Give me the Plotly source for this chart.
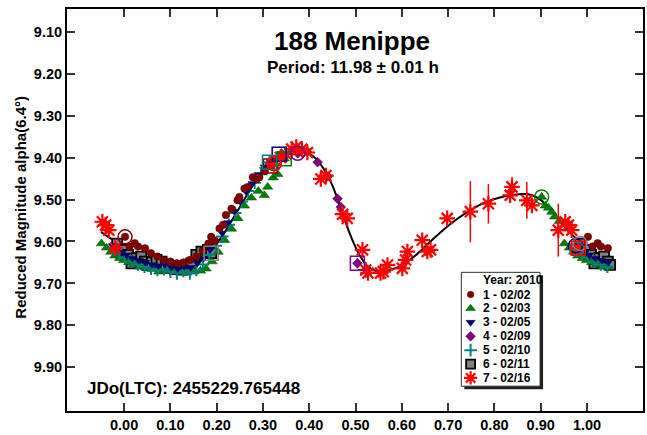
import plotly.graph_objects as go

W, H = 647, 435
L, R, T, B = 67, 645, 9, 414

def px(x):
    return (x - L) / (R - L)

def py(y):
    return (B - y) / (B - T)

# ---------------- data ----------------
x_ticks = [0.00, 0.10, 0.20, 0.30, 0.40, 0.50, 0.60, 0.70, 0.80, 0.90, 1.00]
y_ticks = [9.10, 9.20, 9.30, 9.40, 9.50, 9.60, 9.70, 9.80, 9.90]

curve_phase = [-0.05, -0.03, -0.01, 0.01, 0.03, 0.05, 0.07, 0.09, 0.11, 0.13, 0.15, 0.17,
               0.19, 0.21, 0.23, 0.25, 0.27, 0.29, 0.31, 0.33, 0.35, 0.37, 0.39, 0.41,
               0.43, 0.45, 0.47, 0.49, 0.51, 0.53, 0.55, 0.57, 0.60, 0.63, 0.66, 0.69,
               0.72, 0.75, 0.78, 0.81, 0.84, 0.87, 0.89, 0.91, 0.93, 0.95, 0.97, 0.99,
               1.01, 1.03, 1.055]
curve_mag = [9.577, 9.592, 9.606, 9.620, 9.633, 9.645, 9.653, 9.659, 9.662, 9.661, 9.655, 9.642,
             9.620, 9.590, 9.555, 9.518, 9.481, 9.447, 9.418, 9.398, 9.387, 9.383, 9.385, 9.398,
             9.425, 9.467, 9.527, 9.588, 9.635, 9.663, 9.672, 9.669, 9.657, 9.633, 9.602, 9.572,
             9.546, 9.524, 9.507, 9.496, 9.489, 9.487, 9.494, 9.510, 9.535, 9.562, 9.586, 9.605,
             9.620, 9.633, 9.646]

# 1 - 02/02
s1_phase = [0.002, 0.012, 0.023, 0.030, 0.045, 0.058, 0.072, 0.086, 0.100, 0.114, 0.128, 0.142,
            0.156, 0.170, 0.182, 0.188, 0.196, 0.206, 0.214, 0.220, 0.232, 0.245, 0.249, 0.260,
            0.267, 0.278, 0.286, 0.292, 0.304, 0.316]
s1_mag = [9.589, 9.612, 9.604, 9.612, 9.616, 9.628, 9.636, 9.644, 9.648, 9.652, 9.650, 9.644,
          9.636, 9.622, 9.605, 9.589, 9.598, 9.569, 9.560, 9.537, 9.522, 9.502, 9.494, 9.474,
          9.470, 9.447, 9.452, 9.447, 9.432, 9.420]

# 2 - 02/03
s2_phase = [0.902, 0.910, 0.917, 0.924, 0.930, 0.940, 0.951, 0.962, 0.971, 0.980, 0.990, 0.999,
            0.010, 0.022, 0.034, 0.046, 0.060, 0.075, 0.090, 0.105, 0.120, 0.135, 0.150, 0.165,
            0.177, 0.190, 0.203, 0.217, 0.232, 0.246, 0.260, 0.275, 0.290, 0.303, 0.310, 0.322,
            0.332, 0.346]
s2_mag = [9.494, 9.515, 9.520, 9.530, 9.541, 9.552, 9.605, 9.615, 9.625, 9.634, 9.640, 9.645,
          9.650, 9.655, 9.660, 9.662, 9.666, 9.672, 9.670, 9.668, 9.672, 9.675, 9.672, 9.670,
          9.665, 9.648, 9.625, 9.597, 9.570, 9.545, 9.515, 9.496, 9.480, 9.490, 9.470, 9.448,
          9.440, 9.403]

# 3 - 02/05
s3_phase = [0.975, 0.985, 0.995, 0.005, 0.018, 0.032, 0.046, 0.060, 0.074, 0.088, 0.102, 0.116,
            0.130, 0.144, 0.158, 0.172, 0.186, 0.199, 0.212, 0.225, 0.238, 0.251, 0.264, 0.277,
            0.290, 0.303, 0.316, 0.326, 0.335]
s3_mag = [9.610, 9.618, 9.626, 9.632, 9.640, 9.645, 9.650, 9.655, 9.658, 9.655, 9.662, 9.665,
          9.660, 9.662, 9.652, 9.640, 9.620, 9.600, 9.580, 9.555, 9.528, 9.505, 9.482, 9.462,
          9.440, 9.422, 9.410, 9.400, 9.392]

# 4 - 02/09
s4_phase = [0.375, 0.395, 0.418, 0.440, 0.461, 0.468, 0.504]
s4_mag = [9.390, 9.386, 9.411, 9.445, 9.498, 9.518, 9.652]
s4_err = [0.0, 0.0, 0.0, 0.0, 0.0, 0.0, 0.012]

# 5 - 02/10
s5_phase = [0.978, 0.990, 0.002, 0.016, 0.030, 0.044, 0.058, 0.072, 0.086, 0.100, 0.114, 0.128,
            0.142, 0.156, 0.170, 0.184, 0.198, 0.212, 0.226, 0.240, 0.254, 0.268, 0.282, 0.296,
            0.306, 0.314]
s5_mag = [9.618, 9.628, 9.638, 9.648, 9.655, 9.660, 9.665, 9.668, 9.666, 9.672, 9.676, 9.670,
          9.676, 9.668, 9.655, 9.632, 9.610, 9.588, 9.560, 9.532, 9.505, 9.480, 9.460, 9.440,
          9.425, 9.411]

# 6 - 02/11
s6_phase = [0.985, 0.998, 0.009, 0.016, 0.027, 0.037, 0.045, 0.050, 0.060, 0.070, 0.081, 0.090,
            0.098, 0.110, 0.124, 0.135, 0.145, 0.156, 0.167, 0.176, 0.181, 0.188]
s6_mag = [9.605, 9.620, 9.632, 9.652, 9.640, 9.636, 9.648, 9.656, 9.650, 9.644, 9.648, 9.658,
          9.663, 9.666, 9.667, 9.660, 9.652, 9.632, 9.624, 9.628, 9.620, 9.628]

# 7 - 02/16
s7_phase = [0.324, 0.338, 0.350, 0.362, 0.372, 0.384, 0.396, 0.425, 0.436, 0.472, 0.482, 0.515,
            0.522, 0.527, 0.554, 0.560, 0.569, 0.601, 0.608, 0.612, 0.644, 0.655, 0.662, 0.698,
            0.748, 0.787, 0.834, 0.838, 0.870, 0.881, 0.938, 0.953, 0.960, 0.967, 0.981]
s7_mag = [9.415, 9.400, 9.392, 9.380, 9.375, 9.380, 9.388, 9.451, 9.443, 9.535, 9.545, 9.620,
          9.668, 9.675, 9.675, 9.672, 9.656, 9.664, 9.644, 9.624, 9.597, 9.624, 9.620, 9.545,
          9.529, 9.510, 9.490, 9.470, 9.502, 9.514, 9.573, 9.553, 9.561, 9.573, 9.616]
s7_err = [0.0, 0.0, 0.0, 0.0, 0.0, 0.0, 0.0, 0.0, 0.0, 0.018, 0.0, 0.0,
          0.0, 0.0, 0.0, 0.0, 0.0, 0.0, 0.0, 0.0, 0.0, 0.0, 0.0, 0.018,
          0.073, 0.047, 0.0, 0.024, 0.044, 0.0, 0.063, 0.0, 0.0, 0.0, 0.0]

legend_title = "Year: 2010"
title_text = "188 Menippe"
subtitle_text = "Period: 11.98 ± 0.01 h"
jd_text = "JDo(LTC): 2455229.765448"
y_title = "Reduced Magnitude alpha(6.4°)"

# ---------------- styles ----------------
sessions = [
    dict(name="1 - 02/02", ph=s1_phase, mg=s1_mag, er=None, color="#800000",
         marker=dict(symbol="circle", size=7.5, color="#800000", line=dict(width=0.5, color="#500000"))),
    dict(name="2 - 02/03", ph=s2_phase, mg=s2_mag, er=None, color="#008000",
         marker=dict(symbol="triangle-up", size=9, color="#008000", line=dict(width=0.5, color="#004000"))),
    dict(name="3 - 02/05", ph=s3_phase, mg=s3_mag, er=None, color="#000080",
         marker=dict(symbol="triangle-down", size=7.5, color="#000080", line=dict(width=0.5, color="#000040"))),
    dict(name="4 - 02/09", ph=s4_phase, mg=s4_mag, er=s4_err, color="#800080",
         marker=dict(symbol="diamond", size=7.5, color="#800080", line=dict(width=0.5, color="#400040"))),
    dict(name="5 - 02/10", ph=s5_phase, mg=s5_mag, er=None, color="#008080",
         marker=dict(symbol="cross-thin-open", size=9, color="#008080", line=dict(width=2, color="#008080"))),
    dict(name="6 - 02/11", ph=s6_phase, mg=s6_mag, er=None, color="#808080",
         marker=dict(symbol="square", size=10, color="#808080", line=dict(width=1.8, color="#000000"))),
    dict(name="7 - 02/16", ph=s7_phase, mg=s7_mag, er=s7_err, color="#ff0000",
         marker=dict(symbol="asterisk-open", size=13, color="#ff0000", line=dict(width=2.2, color="#ff0000"))),
]

PH_MIN, PH_MAX = -0.05, 1.056


def wrapped(ph, mg, er):
    xs, ys, es = [], [], []
    er = er if er is not None else [0.0] * len(ph)
    for p, m, e in zip(ph, mg, er):
        xs.append(p); ys.append(m); es.append(e)
        if p + 1 <= PH_MAX:
            xs.append(p + 1); ys.append(m); es.append(e)
        if p - 1 >= PH_MIN:
            xs.append(p - 1); ys.append(m); es.append(e)
    return xs, ys, es


fig = go.Figure()

fig.add_trace(go.Scatter(x=curve_phase, y=curve_mag, mode="lines", line=dict(color="black", width=2, shape="spline"),
                         showlegend=False, hoverinfo="skip"))

draw_order = [5, 1, 4, 2, 0, 3, 6]
for i in draw_order:
    s = sessions[i]
    xs, ys, es = wrapped(s["ph"], s["mg"], s["er"])
    kw = {}
    if s["er"] is not None:
        kw["error_y"] = dict(type="data", array=es, visible=True, color=s["color"], thickness=1.5, width=0)
    fig.add_trace(go.Scatter(x=xs, y=ys, mode="markers", marker=s["marker"], name=s["name"],
                             showlegend=False, **kw))

# first (circle) and last (square) point of each session
for s in sessions:
    fig.add_trace(go.Scatter(x=[s["ph"][0]], y=[s["mg"][0]], mode="markers", showlegend=False,
                             marker=dict(symbol="circle-open", size=14, line=dict(width=1.5, color=s["color"]),
                                         color=s["color"])))
    fig.add_trace(go.Scatter(x=[s["ph"][-1]], y=[s["mg"][-1]], mode="markers", showlegend=False,
                             marker=dict(symbol="square-open", size=14, line=dict(width=1.5, color=s["color"]),
                                         color=s["color"])))

# ---------------- manual legend ----------------
LEG_X0, LEG_X1, LEG_Y0, LEG_Y1 = 462.7, 541.7, 274.3, 389.0
ROW0, ROW_DY = 296.7, 14.0
SYM_X, TXT_X = 472.0, 482.3
legend_sizes = [6.5, 8.5, 8, 7.5, 9, 9, 11]

shapes = [
    dict(type="rect", xref="paper", yref="paper", x0=px(LEG_X0 + 3), x1=px(LEG_X1 + 3),
         y0=py(LEG_Y1 + 3), y1=py(LEG_Y0 + 3), fillcolor="#202020", line=dict(width=0), layer="below"),
    dict(type="rect", xref="paper", yref="paper", x0=px(LEG_X0), x1=px(LEG_X1),
         y0=py(LEG_Y1), y1=py(LEG_Y0), fillcolor="white", line=dict(width=1, color="#303030"), layer="below"),
]

annotations = [
    dict(text="<b>%s</b>" % legend_title, x=px(TXT_X), y=py(281.7), xref="paper", yref="paper",
         xanchor="left", yanchor="middle", showarrow=False, font=dict(size=12, color="black")),
]

for k, s in enumerate(sessions):
    yrow = ROW0 + ROW_DY * k
    m = dict(s["marker"])
    m["size"] = legend_sizes[k]
    fig.add_trace(go.Scatter(x=[px(SYM_X)], y=[py(yrow)], xaxis="x2", yaxis="y2", mode="markers",
                             marker=m, showlegend=False, hoverinfo="skip"))
    annotations.append(dict(text="<b>%s</b>" % s["name"], x=px(TXT_X), y=py(yrow), xref="paper", yref="paper",
                            xanchor="left", yanchor="middle", showarrow=False,
                            font=dict(size=12, color="black")))

annotations += [
    dict(text="<b>%s</b>" % title_text, x=px(353), y=py(41), xref="paper", yref="paper",
         xanchor="center", yanchor="middle", showarrow=False, font=dict(size=26, color="black")),
    dict(text="<b>%s</b>" % subtitle_text, x=px(354), y=py(68), xref="paper", yref="paper",
         xanchor="center", yanchor="middle", showarrow=False, font=dict(size=17, color="black")),
    dict(text="<b>%s</b>" % jd_text, x=px(85), y=py(391), xref="paper", yref="paper",
         xanchor="left", yanchor="middle", showarrow=False, font=dict(size=17, color="black")),
    dict(text="<b>%s</b>" % y_title, x=px(20), y=py(209), xref="paper", yref="paper", textangle=-90,
         xanchor="center", yanchor="middle", showarrow=False, font=dict(size=15, color="black")),
]

axis_common = dict(showline=True, linecolor="black", linewidth=2, mirror="ticks", ticks="inside",
                   ticklen=8, tickwidth=1.5, tickcolor="#333333", showgrid=False, zeroline=False,
                   tickformat=".2f", tickfont=dict(size=14.5, color="black", weight="bold"))

fig.update_layout(
    width=W, height=H,
    margin=dict(l=L, r=W - R, t=T, b=H - B),
    paper_bgcolor="white", plot_bgcolor="white",
    font=dict(family="Arial, Liberation Sans, sans-serif", color="black"),
    xaxis=dict(range=[-0.1234, 1.121], tickvals=x_ticks, **axis_common),
    yaxis=dict(range=[10.004, 9.046], tickvals=y_ticks, **axis_common),
    xaxis2=dict(range=[0, 1], overlaying="x", visible=False, anchor="y2"),
    yaxis2=dict(range=[0, 1], overlaying="y", visible=False, anchor="x2"),
    shapes=shapes, annotations=annotations, showlegend=False,
)

fig.write_html("out.html")
